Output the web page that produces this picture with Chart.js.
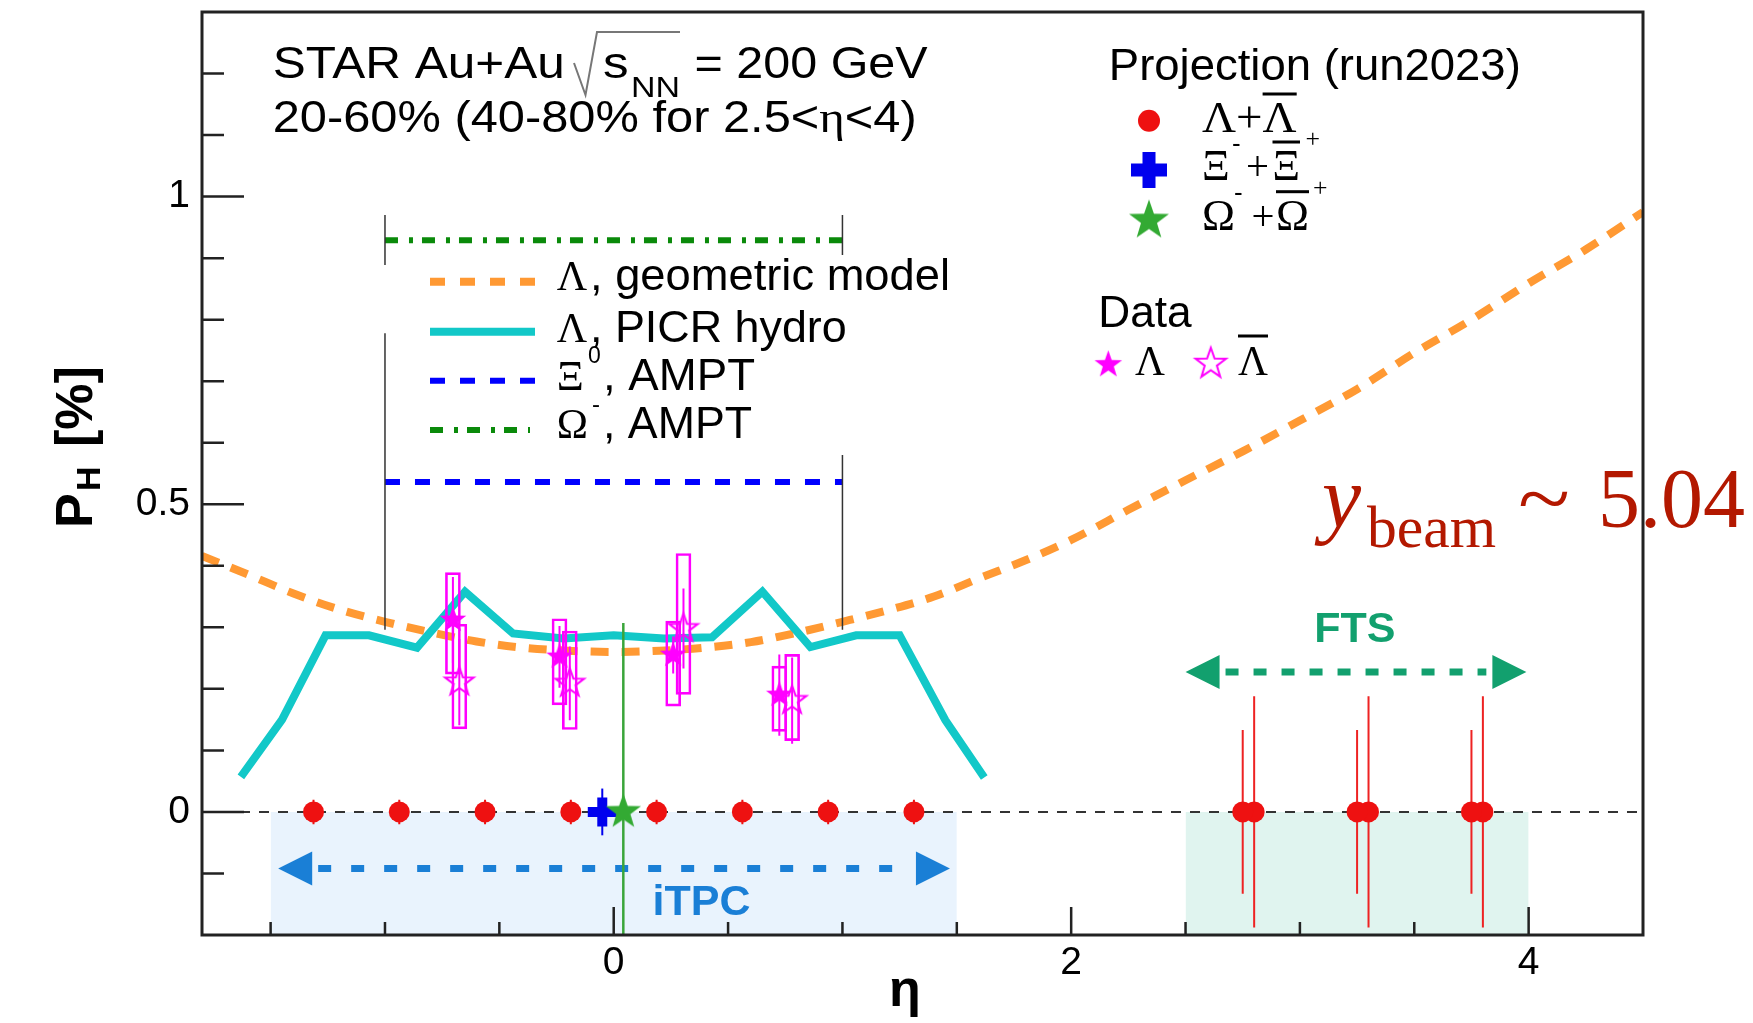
<!DOCTYPE html>
<html>
<head>
<meta charset="utf-8">
<script src="https://cdn.jsdelivr.net/npm/chart.js@4.4.1/dist/chart.umd.min.js"></script>
<style>
  html, body { margin: 0; padding: 0; background: #fff; }
  canvas { display: block; }
</style>
</head>
<body>
<canvas id="polChart" width="1753" height="1023"></canvas>
<script>
// ---- axis ----
const xRange = [-1.8, 4.5];
const yRange = [-0.2, 1.3];
const xTickLabels = [0, 2, 4];
const xMinorTicks = [-1.5, -1, -0.5, 0.5, 1, 1.5, 2.5, 3, 3.5];
const yTickLabels = [0, 0.5, 1];
const yMinorTicks = [-0.1, 0.1, 0.2, 0.3, 0.4, 0.6, 0.7, 0.8, 0.9, 1.1, 1.2];

// ---- model curves ----
const geoEta = [-1.8, -1.6, -1.4, -1.2, -1.0, -0.8, -0.6, -0.4, -0.2, 0, 0.2, 0.4, 0.6, 0.8, 1.0, 1.2, 1.4, 1.6, 1.8, 2.0, 2.25, 2.5, 2.75, 3.0, 3.25, 3.5, 3.75, 4.0, 4.25, 4.5];
const geoPH  = [0.416, 0.386, 0.355, 0.329, 0.309, 0.292, 0.277, 0.267, 0.262, 0.260, 0.262, 0.267, 0.276, 0.291, 0.309, 0.328, 0.350, 0.380, 0.409, 0.442, 0.491, 0.539, 0.586, 0.636, 0.687, 0.746, 0.800, 0.859, 0.914, 0.975];
const hydroEta = [-1.63, -1.45, -1.26, -1.07, -0.86, -0.65, -0.44, -0.22, 0.0, 0.22, 0.43, 0.65, 0.86, 1.06, 1.25, 1.45, 1.62];
const hydroPH  = [0.057, 0.150, 0.287, 0.287, 0.267, 0.358, 0.290, 0.282, 0.287, 0.282, 0.284, 0.358, 0.268, 0.287, 0.287, 0.149, 0.056];
const amptRange = [-1, 1];
const xiAmptPH = 0.536;
const omegaAmptPH = 0.929;
const amptEdgeEta = [-1, -1, 1, 1];
const amptEdgeLo  = [0.296, 0.889, 0.296, 0.905];
const amptEdgeHi  = [0.778, 0.970, 0.580, 0.970];

// ---- measured Lambda / anti-Lambda ----
const lamEta   = [-0.703, -0.237, 0.260, 0.724];
const lamPH    = [0.312, 0.252, 0.255, 0.190];
const lamStat  = [0.070, 0.050, 0.030, 0.066];
const lamSysLo = [0.224, 0.174, 0.172, 0.131];
const lamSysHi = [0.389, 0.314, 0.310, 0.237];
const alamEta   = [-0.675, -0.192, 0.305, 0.780];
const alamPH    = [0.211, 0.209, 0.298, 0.181];
const alamStat  = [0.070, 0.060, 0.065, 0.070];
const alamSysLo = [0.135, 0.134, 0.191, 0.116];
const alamSysHi = [0.305, 0.294, 0.420, 0.256];

// ---- run2023 projections ----
const projLamEta = [-1.3125, -0.9375, -0.5625, -0.1875, 0.1875, 0.5625, 0.9375, 1.3125];
const projLamErr = [0.02, 0.02, 0.02, 0.02, 0.02, 0.02, 0.02, 0.02];
const ftsEtaA = [2.75, 3.25, 3.75];
const ftsErrA = [0.133, 0.133, 0.133];
const ftsEtaB = [2.80, 3.30, 3.80];
const ftsErrB = [0.188, 0.188, 0.188];
const xiProjEta = [-0.05];
const xiProjErr = [0.038];
const omegaProjEta = [0.042];
const omegaProjErr = [0.307];

// ---- acceptance ----
const itpcRange = [-1.5, 1.5];
const ftsRange = [2.5, 4.0];
const itpcArrow = [-1.467, 1.47, -0.092];
const ftsArrow = [2.5, 3.99, 0.2275];
const itpcLabel = [0.384, -0.168];
const ftsLabel = [3.24, 0.276];

const SANS = '"Liberation Sans", Arial, Helvetica, sans-serif';
const SERIF = '"Liberation Serif", "Times New Roman", serif';
const MAGENTA = '#ff00ff';

function pts(xs, ys) {
  return xs.map((x, i) => ({x: x, y: Array.isArray(ys) ? ys[i] : ys}));
}
function errSegs(xs, ys, es) {
  const out = [];
  xs.forEach((x, i) => {
    out.push({x: x, y: ys[i] - es[i]}, {x: x, y: ys[i] + es[i]}, {x: x, y: null});
  });
  return out;
}

function traceStar(g, cx, cy, outer) {
  const inner = outer * 0.4;
  g.beginPath();
  for (let k = 0; k < 10; k++) {
    const r = k % 2 ? inner : outer;
    const a = -Math.PI / 2 + k * Math.PI / 5;
    g.lineTo(cx + r * Math.cos(a), cy + r * Math.sin(a));
  }
  g.closePath();
}
function starCanvas(outer, fill, stroke, lw) {
  const c = document.createElement('canvas');
  c.width = c.height = Math.ceil(2 * (outer + lw + 2));
  const g = c.getContext('2d');
  traceStar(g, c.width / 2, c.height / 2, outer);
  if (fill) { g.fillStyle = fill; g.fill(); }
  if (stroke) { g.strokeStyle = stroke; g.lineWidth = lw; g.stroke(); }
  return c;
}

const starFilled = starCanvas(14, MAGENTA, null, 0);
const starOpen = starCanvas(15, null, MAGENTA, 2);
const starGreen = starCanvas(18.5, '#33aa33', null, 0);
const starGreenBig = starCanvas(21, '#33aa33', null, 0);
const starFilledLeg = starCanvas(14.5, MAGENTA, null, 0);
const starOpenLeg = starCanvas(16, null, MAGENTA, 2);

function lineSet(data, color, width, dash, order, extra) {
  return Object.assign({
    type: 'line', data: data, borderColor: color, borderWidth: width,
    borderDash: dash || [], pointRadius: 0, showLine: true, spanGaps: false,
    fill: false, order: order
  }, extra || {});
}

const datasets = [
  lineSet(pts(itpcRange, 0), 'rgba(0,0,0,0)', 1, null, 101, {fill: 'start', backgroundColor: '#e9f3fd'}),
  lineSet(pts(ftsRange, 0), 'rgba(0,0,0,0)', 1, null, 100, {fill: 'start', backgroundColor: '#e0f4ef'}),
  lineSet(pts(xRange, 0), '#333', 2, [10, 9], 90, {label: 'zero'}),
  lineSet(pts(geoEta, geoPH), '#ff9933', 8, [18, 13], 80, {cubicInterpolationMode: 'monotone'}),
  lineSet(pts(hydroEta, hydroPH), '#12c8c8', 8, null, 79, {borderJoinStyle: 'miter'}),
  lineSet(pts(amptRange, xiAmptPH), '#0000ff', 6, [15, 15], 78),
  lineSet(pts(amptRange, omegaAmptPH), '#0a8a0a', 6, [13, 11, 4, 9], 77),
  lineSet(errSegs(amptEdgeEta, amptEdgeLo.map((v, i) => (v + amptEdgeHi[i]) / 2), amptEdgeHi.map((v, i) => (v - amptEdgeLo[i]) / 2)), '#333', 1.5, null, 76),
  lineSet(errSegs(omegaProjEta, [0], omegaProjErr), '#3aa53a', 2.5, null, 60),
  {
    type: 'bar', data: lamEta.map((x, i) => ({x: x, y: [lamSysLo[i], lamSysHi[i]]})),
    backgroundColor: 'rgba(0,0,0,0)', borderColor: MAGENTA, borderWidth: 2,
    borderSkipped: false, barThickness: 15, grouped: false, order: 50
  },
  {
    type: 'bar', data: alamEta.map((x, i) => ({x: x, y: [alamSysLo[i], alamSysHi[i]]})),
    backgroundColor: 'rgba(0,0,0,0)', borderColor: MAGENTA, borderWidth: 2,
    borderSkipped: false, barThickness: 15, grouped: false, order: 50
  },
  lineSet(errSegs(lamEta, lamPH, lamStat), MAGENTA, 2, null, 45),
  lineSet(errSegs(alamEta, alamPH, alamStat), MAGENTA, 2, null, 45),
  {type: 'scatter', data: pts(lamEta, lamPH), pointStyle: starFilled, pointRadius: 14, order: 40},
  {type: 'scatter', data: pts(alamEta, alamPH), pointStyle: starOpen, pointRadius: 15, order: 40},
  lineSet(errSegs(projLamEta, projLamEta.map(() => 0), projLamErr), '#ee1111', 2, null, 30),
  lineSet(errSegs(ftsEtaA, ftsEtaA.map(() => 0), ftsErrA), '#ee2222', 2, null, 30),
  lineSet(errSegs(ftsEtaB, ftsEtaB.map(() => 0), ftsErrB), '#ee2222', 2, null, 30),
  {type: 'scatter', data: pts(projLamEta, 0), pointStyle: 'circle', pointRadius: 10.5, backgroundColor: '#ee1111', borderWidth: 0, order: 29},
  {type: 'scatter', data: pts(ftsEtaA, 0), pointStyle: 'circle', pointRadius: 10.5, backgroundColor: '#ee1111', borderWidth: 0, order: 29},
  {type: 'scatter', data: pts(ftsEtaB, 0), pointStyle: 'circle', pointRadius: 10.5, backgroundColor: '#ee1111', borderWidth: 0, order: 29},
  lineSet(errSegs(xiProjEta, [0], xiProjErr), '#0000ee', 2, null, 20),
  {type: 'scatter', data: pts(xiProjEta, 0), pointStyle: 'cross', pointRadius: 14.5, borderColor: '#0000ee', borderWidth: 10, order: 19},
  {type: 'scatter', data: pts(omegaProjEta, 0), pointStyle: starGreen, pointRadius: 18, order: 10}
];

function put(ctx, str, x, y, font, width) {
  ctx.font = font;
  if (!width) { ctx.fillText(str, x, y); return; }
  const w = ctx.measureText(str).width;
  ctx.save();
  ctx.translate(x, y);
  ctx.scale(width / w, 1);
  ctx.fillText(str, 0, 0);
  ctx.restore();
}
function runs(ctx, parts, x, y, width) {
  let total = 0;
  parts.forEach(p => { ctx.font = p[1]; p.w = ctx.measureText(p[0]).width; total += p.w; });
  const k = width ? width / total : 1;
  ctx.save();
  ctx.translate(x, y);
  ctx.scale(k, 1);
  let cx = 0;
  parts.forEach(p => { ctx.font = p[1]; ctx.fillText(p[0], cx, 0); cx += p.w; });
  ctx.restore();
}
function sample(ctx, x0, x1, y, color, width, dash) {
  ctx.save();
  ctx.strokeStyle = color; ctx.lineWidth = width; ctx.setLineDash(dash);
  ctx.beginPath(); ctx.moveTo(x0, y); ctx.lineTo(x1, y); ctx.stroke();
  ctx.restore();
}
function overbar(ctx, x0, x1, y) {
  ctx.fillRect(x0, y - 1.5, x1 - x0, 3);
}
function arrow(ctx, x0, x1, y, color, dash) {
  const head = 34, half = 17, gap = 6;
  ctx.save();
  ctx.fillStyle = color; ctx.strokeStyle = color; ctx.lineWidth = 7;
  ctx.setLineDash(dash);
  ctx.beginPath(); ctx.moveTo(x0 + head + gap, y); ctx.lineTo(x1 - head - gap, y); ctx.stroke();
  ctx.setLineDash([]);
  ctx.beginPath(); ctx.moveTo(x0, y); ctx.lineTo(x0 + head, y - half); ctx.lineTo(x0 + head, y + half); ctx.closePath(); ctx.fill();
  ctx.beginPath(); ctx.moveTo(x1, y); ctx.lineTo(x1 - head, y - half); ctx.lineTo(x1 - head, y + half); ctx.closePath(); ctx.fill();
  ctx.restore();
}

// arrows + acceptance labels, drawn right after the zero line (on top of the bands)
const acceptance = {
  id: 'acceptance',
  afterDatasetDraw(chart, args) {
    if (chart.data.datasets[args.index].label !== 'zero') return;
    const {ctx, scales: {x, y}} = chart;
    arrow(ctx, x.getPixelForValue(itpcArrow[0]), x.getPixelForValue(itpcArrow[1]), y.getPixelForValue(itpcArrow[2]), '#1a7fd6', [13, 20]);
    arrow(ctx, x.getPixelForValue(ftsArrow[0]), x.getPixelForValue(ftsArrow[1]), y.getPixelForValue(ftsArrow[2]), '#12a06e', [13, 15]);
    ctx.save();
    ctx.textAlign = 'center';
    ctx.fillStyle = '#1a7fd6';
    put(ctx, 'iTPC', x.getPixelForValue(itpcLabel[0]), y.getPixelForValue(itpcLabel[1]), `bold 43px ${SANS}`);
    ctx.fillStyle = '#12a06e';
    put(ctx, 'FTS', x.getPixelForValue(ftsLabel[0]), y.getPixelForValue(ftsLabel[1]), `bold 43px ${SANS}`);
    ctx.restore();
  }
};

// ROOT style frame with inward ticks
const rootFrame = {
  id: 'rootFrame',
  afterDatasetsDraw(chart) {
    const {ctx, chartArea: a, scales: {x, y}} = chart;
    ctx.save();
    ctx.strokeStyle = '#222';
    ctx.lineWidth = 2.5;
    ctx.beginPath();
    xMinorTicks.forEach(v => { const p = x.getPixelForValue(v); ctx.moveTo(p, a.bottom); ctx.lineTo(p, a.bottom - 13); });
    xTickLabels.forEach(v => { const p = x.getPixelForValue(v); ctx.moveTo(p, a.bottom); ctx.lineTo(p, a.bottom - 28); });
    yMinorTicks.forEach(v => { const p = y.getPixelForValue(v); ctx.moveTo(a.left, p); ctx.lineTo(a.left + 22, p); });
    yTickLabels.forEach(v => { const p = y.getPixelForValue(v); ctx.moveTo(a.left, p); ctx.lineTo(a.left + 42, p); });
    ctx.stroke();
    ctx.lineWidth = 3;
    ctx.strokeRect(a.left, a.top, a.right - a.left, a.bottom - a.top);
    ctx.restore();
  }
};

// texts, legends, axis titles
const annotations = {
  id: 'annotations',
  afterDraw(chart) {
    const ctx = chart.ctx;
    ctx.save();
    ctx.textAlign = 'left';
    ctx.textBaseline = 'alphabetic';
    ctx.fillStyle = '#000';

    // header
    put(ctx, 'STAR Au+Au', 272.7, 78.3, `45px ${SANS}`, 292);
    ctx.strokeStyle = '#777'; ctx.lineWidth = 2;
    ctx.beginPath(); ctx.moveTo(574, 63); ctx.lineTo(585.5, 95); ctx.lineTo(597, 32); ctx.lineTo(680, 32); ctx.stroke();
    put(ctx, 's', 603, 78.3, `45px ${SANS}`, 25.6);
    put(ctx, 'NN', 631, 97, `30px ${SANS}`, 49);
    put(ctx, '= 200 GeV', 694.6, 78.3, `45px ${SANS}`, 233);
    runs(ctx, [['20-60% (40-80% for 2.5<', `45px ${SANS}`], ['\u03b7', `45px ${SERIF}`], ['<4)', `45px ${SANS}`]], 272.7, 131.7, 644);

    // model legend
    sample(ctx, 430, 535, 281.7, '#ff9933', 8, [15, 15]);
    sample(ctx, 430, 535, 331.7, '#12c8c8', 8, []);
    sample(ctx, 430, 535, 380.7, '#0000ff', 6, [15, 15]);
    sample(ctx, 430, 530, 430, '#0a8a0a', 6, [13, 11, 4, 9]);
    put(ctx, '\u039b', 556.7, 290, `42px ${SERIF}`);
    put(ctx, ', geometric model', 590, 290, `44px ${SANS}`, 360);
    put(ctx, '\u039b', 556.7, 341.7, `42px ${SERIF}`);
    put(ctx, ', PICR hydro', 590, 341.7, `44px ${SANS}`, 256.7);
    put(ctx, '\u039e', 556.7, 390, `42px ${SERIF}`);
    put(ctx, '0', 588, 363.3, `23px ${SANS}`);
    put(ctx, ', AMPT', 603, 390, `44px ${SANS}`, 152);
    put(ctx, '\u03a9', 556.7, 438.3, `42px ${SERIF}`);
    put(ctx, '-', 592, 412, `24px ${SANS}`);
    put(ctx, ', AMPT', 603, 438.3, `44px ${SANS}`, 149);

    // projection legend
    put(ctx, 'Projection (run2023)', 1108.8, 80, `45px ${SANS}`, 412);
    ctx.fillStyle = '#ee1111';
    ctx.beginPath(); ctx.arc(1149, 120.8, 11, 0, 2 * Math.PI); ctx.fill();
    ctx.fillStyle = '#0000ee';
    ctx.fillRect(1149 - 18, 170 - 6.5, 36, 13);
    ctx.fillRect(1149 - 6.5, 170 - 18, 13, 36);
    ctx.drawImage(starGreenBig, 1149 - starGreenBig.width / 2, 220.5 - starGreenBig.height / 2);
    ctx.fillStyle = '#000';
    put(ctx, '\u039b+\u039b', 1202, 131.7, `44px ${SERIF}`, 94.7);
    overbar(ctx, 1262.6, 1296.7, 94);
    put(ctx, '\u039e', 1202, 180, `44px ${SERIF}`, 27.7);
    put(ctx, '-', 1232, 152, `26px ${SANS}`);
    put(ctx, '+', 1246, 180, `42px ${SERIF}`, 23);
    put(ctx, '\u039e', 1272.5, 180, `44px ${SERIF}`, 27.5);
    overbar(ctx, 1272.5, 1300, 142);
    put(ctx, '+', 1305.5, 147, `26px ${SERIF}`, 14.5);
    put(ctx, '\u03a9', 1202, 230, `44px ${SERIF}`, 33);
    put(ctx, '-', 1234, 201, `26px ${SANS}`);
    put(ctx, '+', 1251.6, 230, `42px ${SERIF}`, 23);
    put(ctx, '\u03a9', 1276, 230, `44px ${SERIF}`, 33);
    overbar(ctx, 1276, 1309, 191.7);
    put(ctx, '+', 1313, 196, `26px ${SERIF}`, 14.5);

    // data legend
    put(ctx, 'Data', 1098.3, 326.7, `44px ${SANS}`, 93.4);
    ctx.drawImage(starFilledLeg, 1108.3 - starFilledLeg.width / 2, 364.7 - starFilledLeg.height / 2);
    ctx.drawImage(starOpenLeg, 1210.8 - starOpenLeg.width / 2, 363.7 - starOpenLeg.height / 2);
    put(ctx, '\u039b', 1135, 375, `42px ${SERIF}`, 30);
    put(ctx, '\u039b', 1238, 375, `42px ${SERIF}`, 30);
    overbar(ctx, 1238, 1268, 336);

    // beam rapidity
    ctx.fillStyle = '#b31800';
    put(ctx, 'y', 1322, 527, `italic 88px ${SERIF}`);
    put(ctx, 'beam', 1367, 547, `60px ${SERIF}`, 129);
    put(ctx, '~', 1518, 527, `84px ${SERIF}`, 52);
    put(ctx, '5.04', 1598, 527, `84px ${SERIF}`, 147);

    // axis titles
    ctx.fillStyle = '#000';
    ctx.textAlign = 'center';
    put(ctx, '\u03b7', 905, 1006, `bold 52px ${SANS}`);
    ctx.textAlign = 'left';
    ctx.translate(92, 528);
    ctx.rotate(-Math.PI / 2);
    put(ctx, 'P', 0, 0, `bold 52px ${SANS}`);
    put(ctx, 'H', 37, 8, `bold 34px ${SANS}`);
    put(ctx, '[%]', 81, 0, `bold 52px ${SANS}`);
    ctx.restore();
  }
};

function noScalePadding(s) {
  s.paddingLeft = 0; s.paddingRight = 0; s.paddingTop = 0; s.paddingBottom = 0;
}

new Chart(document.getElementById('polChart'), {
  type: 'scatter',
  data: {datasets: datasets},
  options: {
    responsive: false,
    animation: false,
    events: [],
    layout: {autoPadding: false, padding: {top: 12, right: 110, left: 0, bottom: 0}},
    plugins: {legend: {display: false}, tooltip: {enabled: false}},
    scales: {
      x: {
        type: 'linear', min: xRange[0], max: xRange[1], offset: false, grace: 0,
        grid: {display: false, drawTicks: false, offset: false}, border: {display: false},
        afterBuildTicks: s => { s.ticks = xTickLabels.map(v => ({value: v})); },
        afterFit: s => { s.height = 88; noScalePadding(s); },
        ticks: {padding: 5, color: '#000', font: {family: SANS, size: 39}, autoSkip: false, maxRotation: 0, callback: v => String(v)}
      },
      y: {
        type: 'linear', min: yRange[0], max: yRange[1], offset: false, grace: 0,
        grid: {display: false, drawTicks: false}, border: {display: false},
        afterBuildTicks: s => { s.ticks = yTickLabels.map(v => ({value: v})); },
        afterFit: s => { s.width = 202; noScalePadding(s); },
        ticks: {padding: 12, color: '#000', font: {family: SANS, size: 39}, autoSkip: false, callback: v => String(v)}
      }
    }
  },
  plugins: [acceptance, rootFrame, annotations]
});
</script>
</body>
</html>
